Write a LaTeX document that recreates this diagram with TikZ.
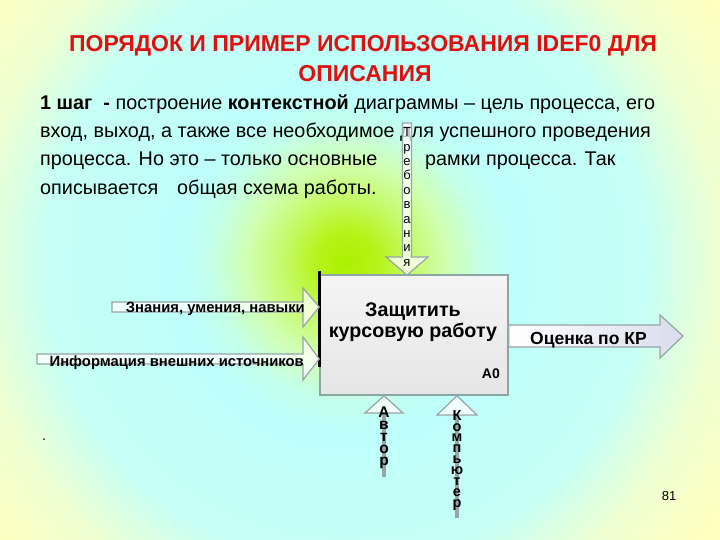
\documentclass[tikz,border=0pt]{standalone}
\usepackage{fontspec}
\setmainfont{Liberation Sans}
\usetikzlibrary{calc}
\definecolor{glowA}{RGB}{172,240,0}
\definecolor{glowB}{RGB}{182,243,25}
\definecolor{glowC}{RGB}{198,250,105}
\definecolor{glowD}{RGB}{208,255,178}
\definecolor{glowE}{RGB}{196,255,232}
\definecolor{cyanbg}{RGB}{190,255,252}
\definecolor{cyanbg2}{RGB}{198,255,245}
\definecolor{yelA}{RGB}{238,255,210}
\definecolor{yelB}{RGB}{255,255,190}
\definecolor{titlered}{RGB}{222,16,16}
\definecolor{arrgray}{RGB}{150,165,165}
\definecolor{boxedge}{RGB}{140,165,165}
\definecolor{lavender}{RGB}{218,220,238}
\pgfdeclareradialshading{glow}{\pgfpoint{0bp}{0bp}}{color(0bp)=(glowA); color(1.67bp)=(glowB); color(3.6bp)=(glowC); color(5.56bp)=(glowD); color(7.5bp)=(glowE); color(9.2bp)=(cyanbg); color(16.7bp)=(cyanbg2); color(20.6bp)=(yelA); color(25bp)=(yelB); color(50bp)=(yelB)}
\tikzset{
  titletext/.style={font=\bfseries\fontsize{23}{27}\selectfont, text=titlered, inner sep=0pt},
  bodytext/.style={font=\fontsize{19.8}{23}\selectfont, inner sep=0pt, anchor=base west},
  boxstyle/.style={draw=boxedge, line width=1.5pt, top color=white!96!black, bottom color=white!90!black, minimum width=188pt, minimum height=120pt, inner sep=0pt},
  boxtext/.style={font=\bfseries\fontsize{19.7}{24}\selectfont, inner sep=0pt, anchor=base},
  arrowtext/.style={font=\bfseries\fontsize{14.8}{18}\selectfont, inner sep=0pt},
  blockarrow/.style={draw=arrgray, line width=1.2pt, fill=white, fill opacity=0.75, line join=miter},
  shaftline/.style={draw=arrgray, line width=4pt},
  vletters/.style={align=center, inner sep=0pt, anchor=north},
}
\begin{document}
\begin{tikzpicture}[x=1pt,y=-1pt]
\useasboundingbox (0,0) rectangle (720,540);
\begin{scope}
\clip (0,0) rectangle (720,540);
\shade[shading=glow] (-103,-188) rectangle (797,712);
\end{scope}
% title
\node[titletext, anchor=base] (t1) at (363,52) {ПОРЯДОК И ПРИМЕР ИСПОЛЬЗОВАНИЯ IDEF0 ДЛЯ};
\node[titletext, anchor=base] (t2) at (365,82) {ОПИСАНИЯ};
% body
\node[bodytext] (l1) at (40,110) {{\bfseries 1 шаг\ \ -} построение {\bfseries контекстной} диаграммы – цель процесса, его};
\node[bodytext] (l2) at (40,138) {вход, выход, а также все необходимое для успешного проведения};
\node[bodytext] (l3a) at (40,166) {процесса. Но это – только основные};
\node[bodytext] (l3b) at (425,166) {рамки процесса. Так};
\node[bodytext] (l4a) at (40,195) {описывается};
\node[bodytext] (l4b) at (177,195) {общая схема работы.};
% box
\node[boxstyle] (a0) at (414,335) {};
\draw[line width=3pt] (a0.north west) ++(0,-3) coordinate (bt) -- ++(0,96) coordinate (bb);
\node[boxtext] (n1) at (413,316) {Защитить};
\node[boxtext] (n2) at (413,337) {курсовую работу};
\node[font=\bfseries\fontsize{14}{17}\selectfont, inner sep=0pt, anchor=base east] (nA0) at (500,378) {А0};
% control arrow
\coordinate (ctip) at (407,275);
\draw[blockarrow] (402.5,123) -- (411.5,123) -- (411.5,257) -- (428,257) -- (ctip) -- (386,257) -- (402.5,257) -- cycle;
\node[vletters, font=\fontsize{13}{14.4}\selectfont] (req) at (407,127.5) {Т\\р\\е\\б\\о\\в\\а\\н\\и\\я};
% output arrow
\draw[draw=arrgray, line width=1.2pt, left color=white, right color=lavender, line join=miter] (a0.east |- 0,325) -- (660,325) -- (660,315) -- (683,336) -- (660,358) -- (660,347) -- (a0.east |- 0,347) -- cycle;
\node[arrowtext, font=\bfseries\fontsize{17.5}{20}\selectfont, anchor=base west] (out) at (530,344) {Оценка по КР};
% input arrows
\draw[blockarrow] (112,302) -- (303,302) -- (303,288) -- (a0.west |- 0,307) -- (303,327) -- (303,312) -- (112,312) -- cycle;
\draw[blockarrow] (37,354) -- (303,354) -- (303,337) -- (a0.west |- 0,359) -- (303,380) -- (303,364) -- (37,364) -- cycle;
\node[arrowtext, anchor=base east] (in1) at (305,312) {Знания, умения, навыки};
\node[arrowtext, anchor=base east] (in2) at (304,366) {Информация внешних источников};
% mechanism arrows
\coordinate (m1) at (384,413);
\coordinate (m2) at (457,415);
\draw[shaftline] (m1) -- (384,477);
\draw[blockarrow] (365,413) -- (a0.south -| 384,0) -- (403,413) -- cycle;
\draw[shaftline] (m2) -- (457,518);
\draw[blockarrow] (437,415) -- (a0.south -| 457,0) -- (477,415) -- cycle;
\node[vletters, font=\bfseries\fontsize{15.5}{11.8}\selectfont] (aut) at (384,407) {А\\в\\т\\о\\р};
\node[vletters, font=\bfseries\fontsize{14.5}{10.9}\selectfont] (comp) at (457,410) {К\\о\\м\\п\\ь\\ю\\т\\е\\р};
% misc
\node[inner sep=0pt, anchor=base, font=\fontsize{14}{16}\selectfont] (dot) at (44,440) {.};
\node[inner sep=0pt, anchor=base, font=\fontsize{13}{15}\selectfont] (pg) at (669,500) {81};
\end{tikzpicture}
\end{document}
